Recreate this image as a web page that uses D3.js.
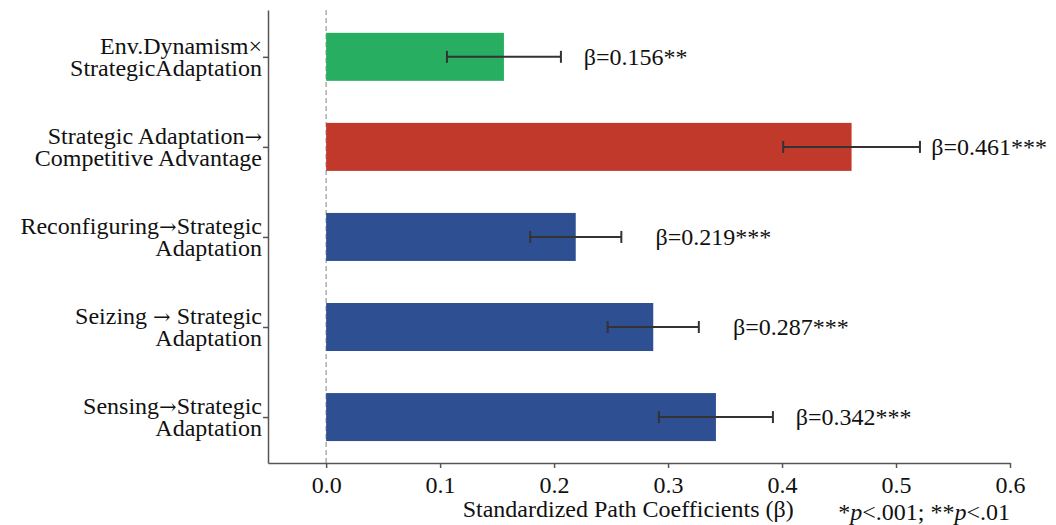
<!DOCTYPE html>
<html>
<head>
<meta charset="utf-8">
<script src="https://cdn.jsdelivr.net/npm/d3@7"></script>
<style>
  body { margin: 0; background: #fff; }
  text { font-family: "Liberation Serif", "Times New Roman", serif; fill: #111; }
</style>
</head>
<body>
<div id="chart"></div>
<script>
// bottom to top, as drawn
const paths = [
  ["Sensing\u2192Strategic", "Adaptation"],
  ["Seizing \u2192 Strategic", "Adaptation"],
  ["Reconfiguring\u2192Strategic", "Adaptation"],
  ["Strategic Adaptation\u2192", "Competitive Advantage"],
  ["Env.Dynamism\u00d7", "StrategicAdaptation"]
]
const betas = [0.342, 0.287, 0.219, 0.461, 0.156]
const errors = [0.05, 0.04, 0.04, 0.06, 0.05]
const stars = ["***", "***", "***", "***", "**"]
const barColors = ["#2e4f92", "#2e4f92", "#2e4f92", "#c0392b", "#27ae60"]
const xTicks = [0.0, 0.1, 0.2, 0.3, 0.4, 0.5, 0.6]

const W = 1056, H = 525
const margin = { top: 10, right: 46, bottom: 62, left: 268 }
const width = W - margin.left - margin.right,
  height = H - margin.top - margin.bottom

const svg = d3.select("#chart").append("svg")
  .attr("width", W)
  .attr("height", H)
  .append("g")
  .attr("transform", "translate(" + margin.left + "," + margin.top + ")")

const x = d3.scaleLinear()
  .domain([-0.051, 0.6])
  .range([0, width])

const y = d3.scaleLinear()
  .domain([-0.51, 4.52])
  .range([height, 0])

const barH = 48

// zero reference line
svg.append("line")
  .attr("x1", x(0)).attr("x2", x(0))
  .attr("y1", 0).attr("y2", height)
  .attr("stroke", "#999")
  .attr("stroke-width", 1.2)
  .attr("stroke-dasharray", "5,3")

svg.selectAll("rect.bar")
  .data(betas)
  .enter().append("rect")
  .attr("class", "bar")
  .attr("x", x(0))
  .attr("y", (d, i) => y(i) - barH / 2)
  .attr("width", d => x(d) - x(0))
  .attr("height", barH)
  .attr("fill", (d, i) => barColors[i])

// error bars
const err = svg.selectAll("g.err")
  .data(betas)
  .enter().append("g")
  .attr("class", "err")
  .attr("stroke", "#333")
  .attr("stroke-width", 2)

err.append("line")
  .attr("x1", (d, i) => x(d - errors[i]))
  .attr("x2", (d, i) => x(d + errors[i]))
  .attr("y1", (d, i) => y(i)).attr("y2", (d, i) => y(i))
err.append("line")
  .attr("x1", (d, i) => x(d - errors[i])).attr("x2", (d, i) => x(d - errors[i]))
  .attr("y1", (d, i) => y(i) - 6).attr("y2", (d, i) => y(i) + 6)
err.append("line")
  .attr("x1", (d, i) => x(d + errors[i])).attr("x2", (d, i) => x(d + errors[i]))
  .attr("y1", (d, i) => y(i) - 6).attr("y2", (d, i) => y(i) + 6)

// value labels
svg.selectAll("text.val")
  .data(betas)
  .enter().append("text")
  .attr("class", "val")
  .attr("x", d => x(d + 0.07))
  .attr("y", (d, i) => y(i))
  .attr("dy", "0.35em")
  .attr("font-size", "24px")
  .text((d, i) => "\u03b2=" + d3.format(".3f")(d) + stars[i])

// axes
const xAxis = d3.axisBottom(x)
  .tickValues(xTicks)
  .tickFormat(d3.format(".1f"))
  .tickSize(5)
  .tickSizeOuter(0)

const gx = svg.append("g")
  .attr("transform", "translate(0," + height + ")")
  .call(xAxis)
gx.select(".domain").attr("stroke", "#555").attr("stroke-width", 1.5)
gx.selectAll(".tick line").attr("stroke", "#555").attr("stroke-width", 1.5)
gx.selectAll(".tick text")
  .attr("font-size", "24px")
  .attr("font-family", "Liberation Serif")
  .attr("fill", "#111")
  .attr("dy", "0.9em")

const yAxis = d3.axisLeft(y)
  .tickValues(d3.range(paths.length))
  .tickSize(5)
  .tickSizeOuter(0)
  .tickFormat("")

const gy = svg.append("g").call(yAxis)
gy.select(".domain").attr("stroke", "#555").attr("stroke-width", 1.5)
gy.selectAll(".tick line").attr("stroke", "#555").attr("stroke-width", 1.5)

// category labels, arrows drawn in a font with a wider arrow glyph
const addLine = (sel, str) => {
  str.split("\u2192").forEach((part, k) => {
    if (k > 0) sel.append("tspan").attr("font-family", "DejaVu Serif").attr("font-size", "21px").text("\u2192")
    sel.append("tspan").text(part)
  })
}

const cat = svg.selectAll("text.cat")
  .data(paths)
  .enter().append("text")
  .attr("class", "cat")
  .attr("text-anchor", "end")
  .attr("font-size", "24px")
  .attr("y", (d, i) => y(i))

cat.each(function (d, i) {
  const t = d3.select(this)
  const l1 = t.append("tspan").attr("x", -6).attr("y", y(i) - 3)
  addLine(l1, d[0])
  const l2 = t.append("tspan").attr("x", -6).attr("y", y(i) + 19)
  addLine(l2, d[1])
})

svg.append("text")
  .attr("x", x(0.265))
  .attr("y", height + 54)
  .attr("text-anchor", "middle")
  .attr("font-size", "24px")
  .text("Standardized Path Coefficients (\u03b2)")

const note = svg.append("text")
  .attr("x", x(0.6))
  .attr("y", height + 57)
  .attr("text-anchor", "end")
  .attr("font-size", "24px")
note.append("tspan").text("*")
note.append("tspan").attr("font-style", "italic").text("p")
note.append("tspan").text("<.001; **")
note.append("tspan").attr("font-style", "italic").text("p")
note.append("tspan").text("<.01")
</script>
</body>
</html>
